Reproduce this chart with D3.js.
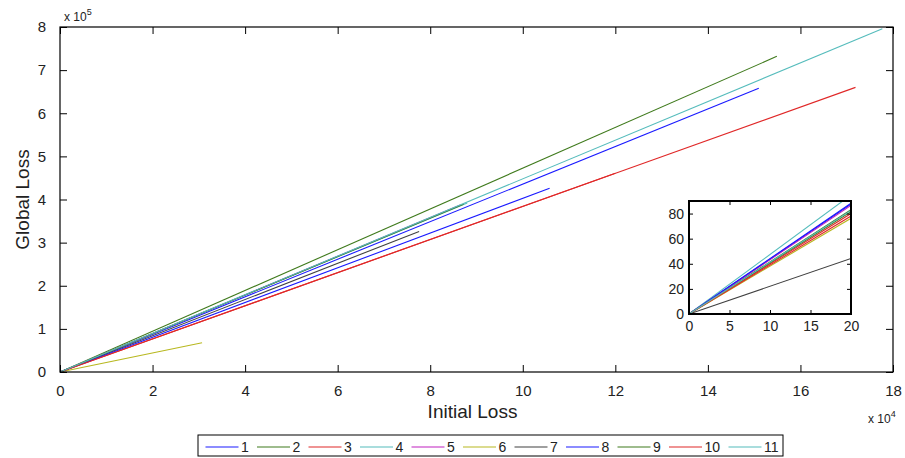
<!DOCTYPE html>
<html>
<head>
<meta charset="utf-8">
<script src="https://cdn.jsdelivr.net/npm/d3@7"></script>
<style>
  body { margin: 0; background: #fff; }
  text { font-family: Arial, "Liberation Sans", sans-serif; fill: #222; }
</style>
</head>
<body>
<script>
// series names / colours (legend order)
var seriesNames = ["1", "2", "3", "4", "5", "6", "7", "8", "9", "10", "11"];
var seriesColors = ["#1a1aff", "#3f7a1c", "#e02828", "#55bcbc", "#bf20bf", "#b8b820",
                    "#404040", "#1a1aff", "#3f7a1c", "#e02828", "#55bcbc"];

// main plot: every line starts at the origin and ends at (endX, endY)
var mainEndX = [151000, 154900, 171900, 88000, 86500, 30700, 77600, 105800, 87200, 120000, 177700];
var mainEndY = [658000, 732000, 660000, 392000, 387000, 68000, 326000, 426000, 389000, 461000, 796000];

// inset: value of each line at x = 20
var insetX = 20;
var insetEndY = [87.5, 83, 80, 94.8, 86.5, 76.2, 44.2, 88.2, 81.5, 78, 82.5];

var xTicks = [0, 2, 4, 6, 8, 10, 12, 14, 16, 18];
var yTicks = [0, 1, 2, 3, 4, 5, 6, 7, 8];
var insetXTicks = [0, 5, 10, 15, 20];
var insetYTicks = [0, 20, 40, 60, 80];

var W = 905, H = 458;
var margin = {top: 27, right: 12, bottom: 86, left: 60},
    width = W - margin.left - margin.right,
    height = H - margin.top - margin.bottom;

var svg = d3.select("body").append("svg")
    .attr("width", W)
    .attr("height", H);

var x = d3.scaleLinear().domain([0, 180000]).range([0, width]);
var y = d3.scaleLinear().domain([0, 800000]).range([height, 0]);

var g = svg.append("g")
    .attr("transform", "translate(" + margin.left + "," + margin.top + ")");

svg.append("defs").append("clipPath").attr("id", "clipMain")
    .append("rect").attr("width", width).attr("height", height);

var line = d3.line()
    .x(function(d) { return x(d[0]); })
    .y(function(d) { return y(d[1]); });

g.append("g").attr("clip-path", "url(#clipMain)")
  .selectAll("path")
  .data(seriesNames.map(function(n, i) { return [[0, 0], [mainEndX[i], mainEndY[i]]]; }))
  .enter().append("path")
    .attr("d", line)
    .attr("fill", "none")
    .attr("stroke", function(d, i) { return seriesColors[i]; })
    .attr("stroke-width", 1.1);

// axes, matlab style: ticks inside, mirrored on the box
function styleAxis(sel) {
  sel.select(".domain").remove();
  sel.selectAll(".tick line").attr("stroke", "#000");
}
g.append("g")
    .attr("transform", "translate(0," + height + ")")
    .call(d3.axisBottom(x).tickValues(xTicks.map(function(v) { return v * 1e4; }))
      .tickSize(-7).tickPadding(13).tickFormat(function(d) { return d / 1e4; }))
    .call(styleAxis)
    .selectAll("text").style("font-size", "15px");
g.append("g")
    .call(d3.axisTop(x).tickValues(xTicks.map(function(v) { return v * 1e4; }))
      .tickSize(-7).tickFormat(""))
    .call(styleAxis);
g.append("g")
    .call(d3.axisLeft(y).tickValues(yTicks.map(function(v) { return v * 1e5; }))
      .tickSize(-7).tickPadding(14).tickFormat(function(d) { return d / 1e5; }))
    .call(styleAxis)
    .selectAll("text").style("font-size", "15px");
g.append("g")
    .attr("transform", "translate(" + width + ",0)")
    .call(d3.axisRight(y).tickValues(yTicks.map(function(v) { return v * 1e5; }))
      .tickSize(-7).tickFormat(""))
    .call(styleAxis);
g.append("rect")
    .attr("width", width).attr("height", height)
    .attr("fill", "none").attr("stroke", "#000").attr("stroke-width", 1.2);

// exponent labels
var e5 = svg.append("text").attr("x", 64).attr("y", 21).style("font-size", "12px");
e5.append("tspan").text("x 10");
e5.append("tspan").attr("dy", -6).style("font-size", "9px").text("5");
var e4 = svg.append("text").attr("x", 868).attr("y", 423).style("font-size", "12px");
e4.append("tspan").text("x 10");
e4.append("tspan").attr("dy", -6).style("font-size", "9px").text("4");

// axis titles
svg.append("text")
    .attr("x", margin.left + width / 2 - 4).attr("y", 418)
    .attr("text-anchor", "middle").style("font-size", "19px")
    .text("Initial Loss");
svg.append("text")
    .attr("transform", "translate(29," + (margin.top + height / 2) + ") rotate(-90)")
    .attr("text-anchor", "middle").style("font-size", "19px")
    .text("Global Loss");

// inset
var ins = {left: 689, top: 201, width: 162, height: 113};
var ix = d3.scaleLinear().domain([0, 20]).range([0, ins.width]);
var iy = d3.scaleLinear().domain([0, 90]).range([ins.height, 0]);
var gi = svg.append("g").attr("transform", "translate(" + ins.left + "," + ins.top + ")");
gi.append("rect").attr("width", ins.width).attr("height", ins.height).attr("fill", "#fff");
svg.select("defs").append("clipPath").attr("id", "clipInset")
    .append("rect").attr("width", ins.width).attr("height", ins.height);

var iline = d3.line()
    .x(function(d) { return ix(d[0]); })
    .y(function(d) { return iy(d[1]); });
gi.append("g").attr("clip-path", "url(#clipInset)")
  .selectAll("path")
  .data(seriesNames.map(function(n, i) { return [[0, 0], [insetX, insetEndY[i]]]; }))
  .enter().append("path")
    .attr("d", iline)
    .attr("fill", "none")
    .attr("stroke", function(d, i) { return seriesColors[i]; })
    .attr("stroke-width", 1.1);

gi.append("g")
    .attr("transform", "translate(0," + ins.height + ")")
    .call(d3.axisBottom(ix).tickValues(insetXTicks).tickSize(-4).tickPadding(7))
    .call(styleAxis)
    .selectAll("text").style("font-size", "14px");
gi.append("g")
    .call(d3.axisTop(ix).tickValues(insetXTicks).tickSize(-4).tickFormat(""))
    .call(styleAxis);
gi.append("g")
    .call(d3.axisLeft(iy).tickValues(insetYTicks).tickSize(-4).tickPadding(5))
    .call(styleAxis)
    .selectAll("text").style("font-size", "14px");
gi.append("g")
    .attr("transform", "translate(" + ins.width + ",0)")
    .call(d3.axisRight(iy).tickValues(insetYTicks).tickSize(-4).tickFormat(""))
    .call(styleAxis);
gi.append("rect")
    .attr("width", ins.width).attr("height", ins.height)
    .attr("fill", "none").attr("stroke", "#000").attr("stroke-width", 2);

// legend
var lg = svg.append("g");
var lx = 205.5, ly = 447;
var legendItems = [];
seriesNames.forEach(function(n, i) {
  legendItems.push({name: n, color: seriesColors[i], x: lx});
  lx += 35 + (n.length > 1 ? 16 : 8) + 8.5;
});
lg.append("rect")
    .attr("x", 198).attr("y", 435).attr("width", 585).attr("height", 21)
    .attr("fill", "#fff").attr("stroke", "#000").attr("stroke-width", 1);
var it = lg.selectAll("g.item").data(legendItems).enter().append("g").attr("class", "item");
it.append("line")
    .attr("x1", function(d) { return d.x; }).attr("x2", function(d) { return d.x + 33; })
    .attr("y1", ly).attr("y2", ly)
    .attr("stroke", function(d) { return d.color; }).attr("stroke-width", 1.1);
it.append("text")
    .attr("x", function(d) { return d.x + 35.5; }).attr("y", ly + 5)
    .style("font-size", "14px")
    .text(function(d) { return d.name; });
</script>
</body>
</html>
